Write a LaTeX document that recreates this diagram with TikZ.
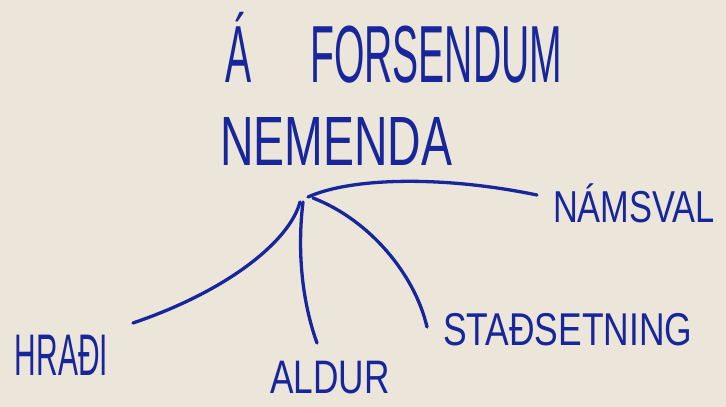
\documentclass[tikz,border=0pt]{standalone}
\usepackage{fontspec}
\usepackage{graphicx}
\setmainfont{Liberation Sans}
\definecolor{ink}{RGB}{24,38,155}
\definecolor{paper}{RGB}{236,230,218}
\begin{document}
\begin{tikzpicture}[x=1pt,y=-1pt,
  lbl/.style={inner sep=0pt,outer sep=0pt,anchor=base west,text=ink},
  pen/.style={draw=ink,line width=3.3pt,line cap=round}]
\fill[paper] (0,0) rectangle (726,407);
\useasboundingbox (0,0) rectangle (726,407);
% texts
\node[lbl] (title1) at (225,82) {\fontsize{81}{81}\selectfont\scalebox{0.483}[1]{Á\hspace{1.51em}FORSENDUM}};
\node[lbl] (title2) at (220,165) {\fontsize{69.8}{70}\selectfont\scalebox{0.665}[1]{NEMENDA}};
\node[lbl] (namsval) at (553,222) {\fontsize{44.7}{45}\selectfont\scalebox{0.77}[1]{NÁMSVAL}};
\node[lbl] (hradi) at (15,375) {\fontsize{58.7}{59}\selectfont\scalebox{0.51}[1]{HRAÐI}};
\node[lbl] (aldur) at (270,393) {\fontsize{47}{47}\selectfont\scalebox{0.75}[1]{ALDUR}};
\node[lbl] (stad) at (443,345) {\fontsize{46}{46}\selectfont\scalebox{0.77}[1]{STAÐSETNING}};
% hub and free ends
\coordinate (hubN) at (308,197);
\coordinate (hubH) at (300,202);
\coordinate (hubA) at (303,202);
\coordinate (hubS) at (313,198);
\coordinate (endN) at (537,195);
\coordinate (endH) at (133,323);
\coordinate (endA) at (317,343);
\coordinate (endS) at (427,327);
% connectors
\draw[pen] (hubN) .. controls (350,178) and (440,175) .. (endN);
\draw[pen] (hubH) .. controls (290,240) and (230,290) .. (endH);
\draw[pen] (hubA) .. controls (296,260) and (305,310) .. (endA);
\draw[pen] (hubS) .. controls (370,220) and (415,275) .. (endS);
\end{tikzpicture}
\end{document}
